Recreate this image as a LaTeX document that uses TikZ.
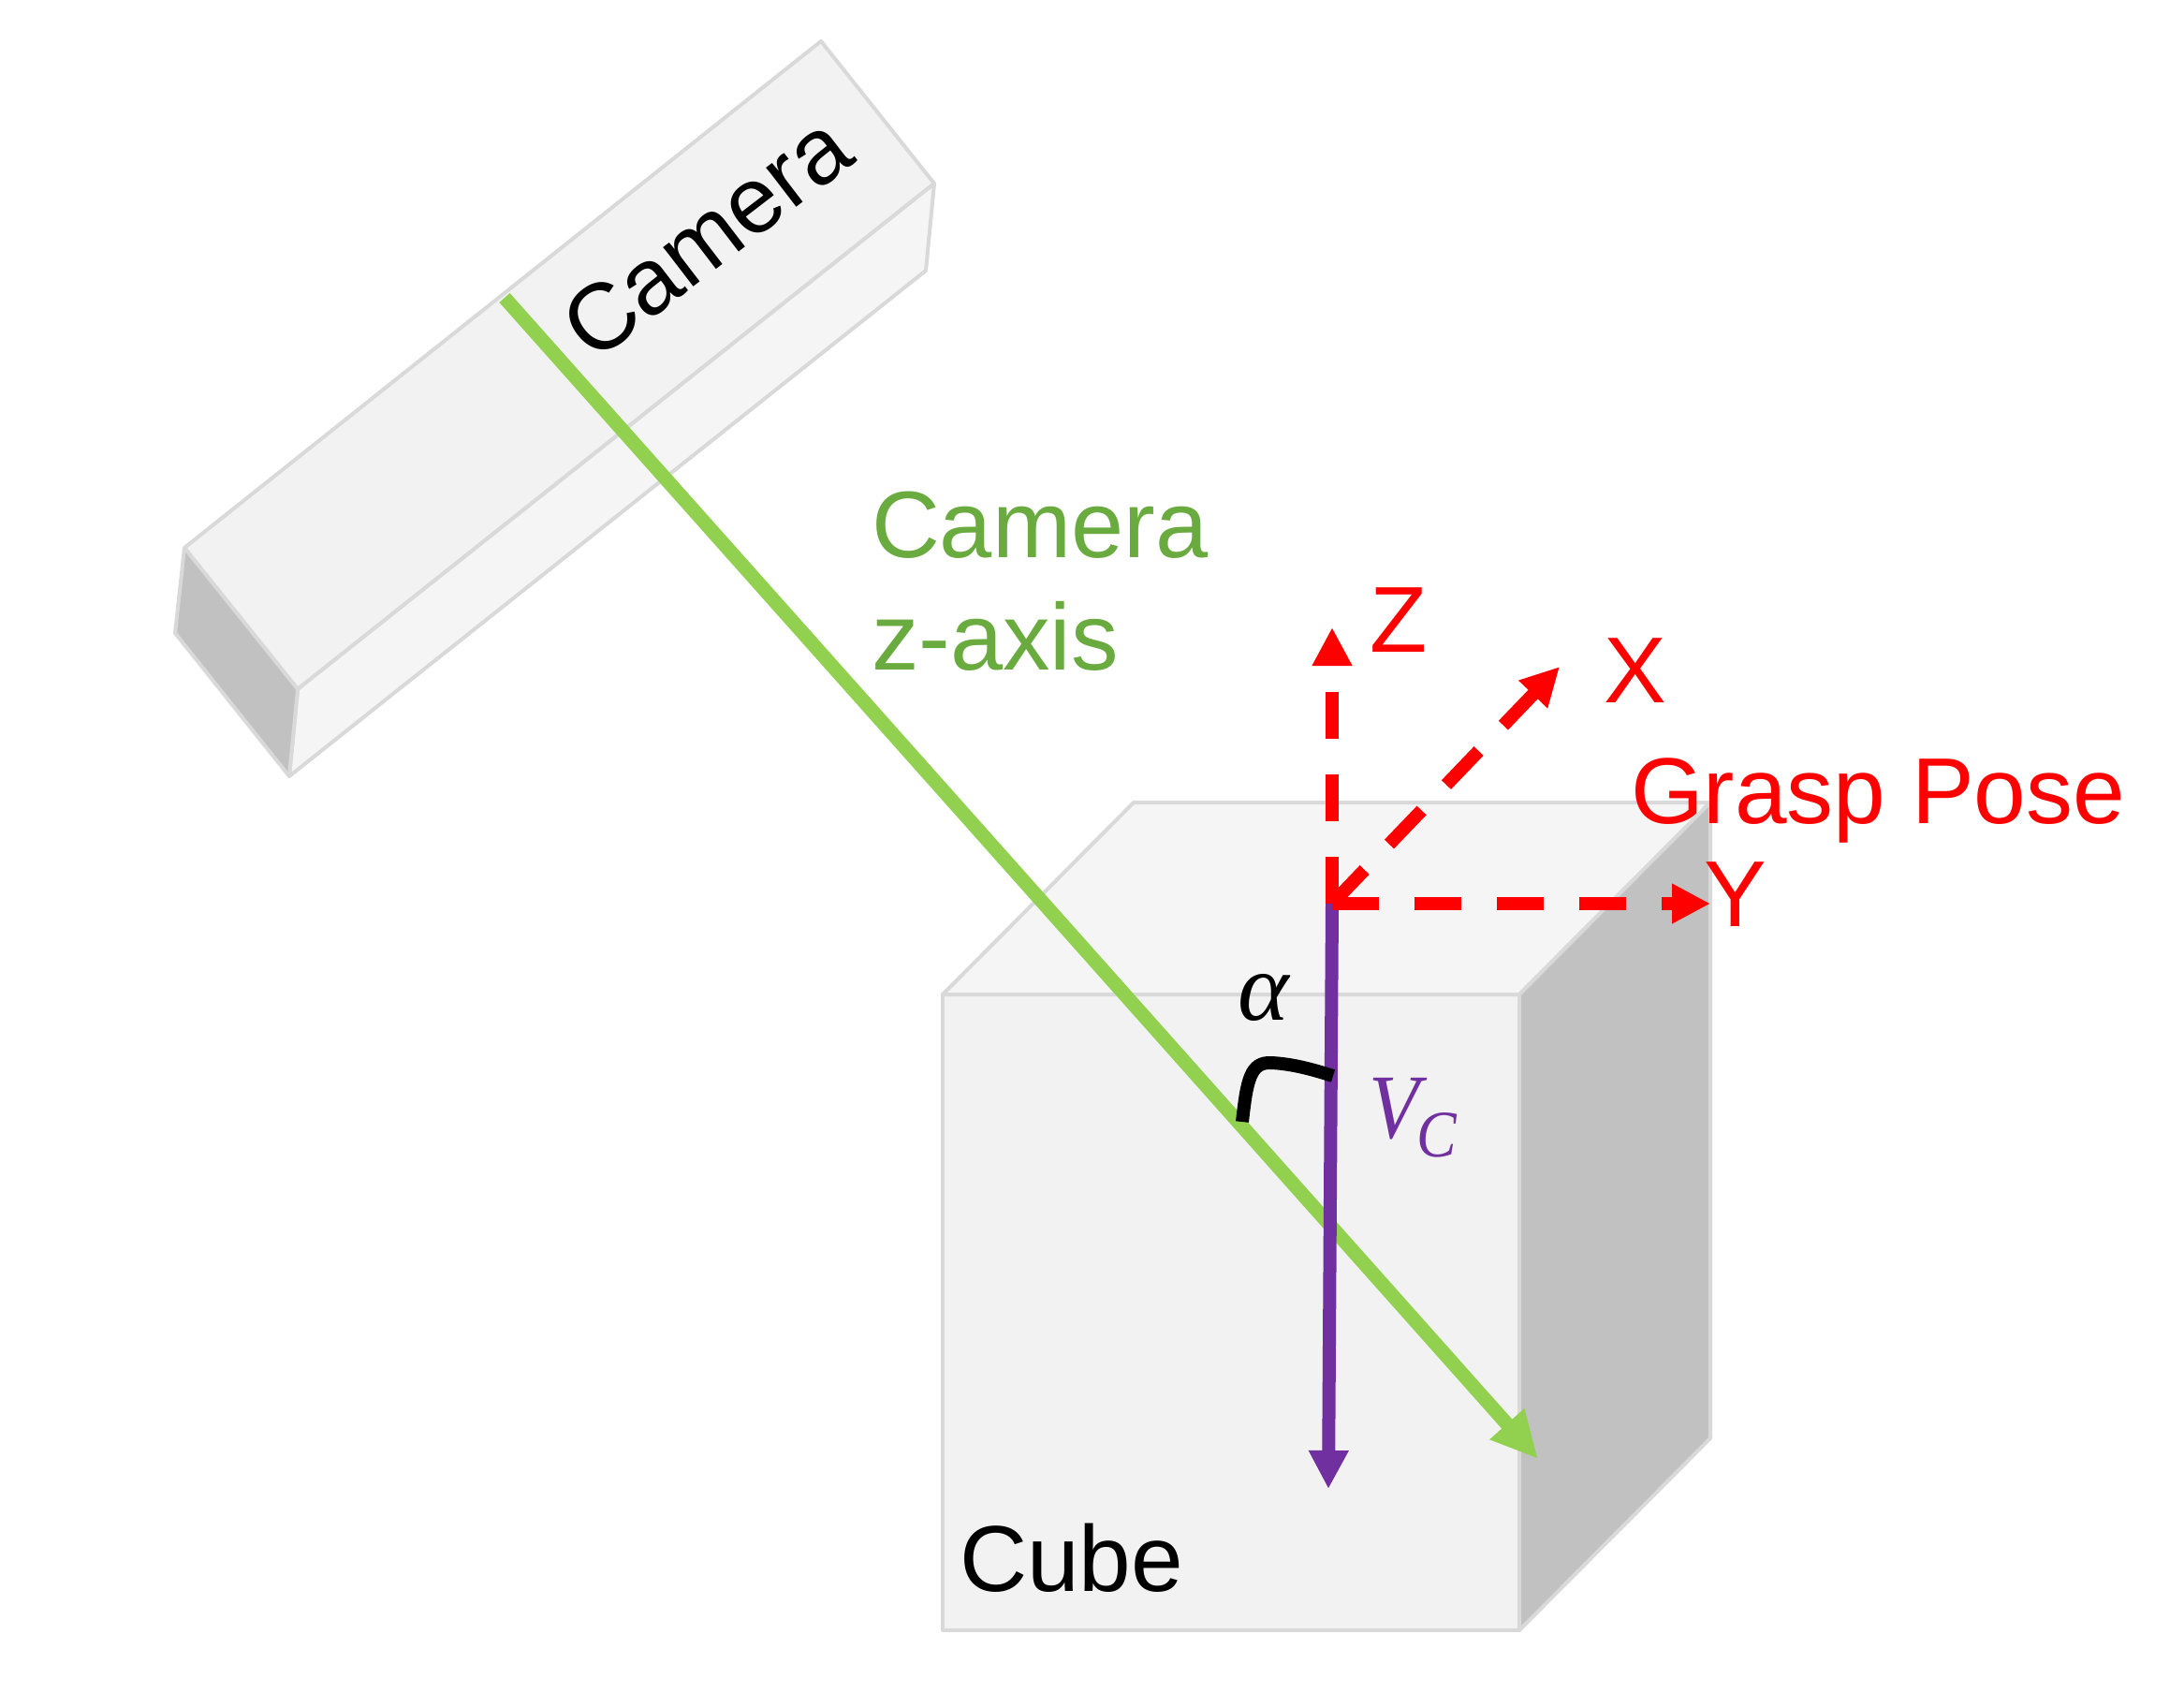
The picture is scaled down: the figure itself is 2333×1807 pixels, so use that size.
\documentclass[tikz,border=0pt]{standalone}
\usepackage{fontspec}
\setmainfont{Liberation Sans}
\newfontfamily\serifit[ItalicFont={Liberation Serif Italic}]{Liberation Serif}
\usetikzlibrary{arrows.meta}
\definecolor{edgegrey}{HTML}{D9D9D9}
\definecolor{faceA}{HTML}{F2F2F2}
\definecolor{faceB}{HTML}{F5F5F5}
\definecolor{faceC}{HTML}{C1C1C1}
\definecolor{camgreen}{HTML}{92D050}
\definecolor{labgreen}{HTML}{6AAB40}
\definecolor{vecpurple}{HTML}{7030A0}
\tikzset{
  face/.style={draw=edgegrey,line width=4pt,line join=round},
  sz/.style={font=\fontsize{#1}{#1}\selectfont,inner sep=0pt,outer sep=0pt},
  lab/.style={sz=100,anchor=base west},
  axis/.style={draw=red,line width=14pt,dash pattern=on 50pt off 38pt,
    -{Triangle[length=41pt,width=40pt,fill=red]},shorten >=0pt},
}
\begin{document}
\begin{tikzpicture}[x=1pt,y=-1pt]
\useasboundingbox (0,0) rectangle (2333,1807);
% camera body
\coordinate (ca) at (197,585); \coordinate (cb) at (877,44);
\coordinate (cc) at (998,196); \coordinate (cd) at (318,736);
\coordinate (ce) at (989,289); \coordinate (cf) at (309,829);
\coordinate (cg) at (187,676);
\path[face,fill=faceA] (ca) -- (cb) -- (cc) -- (cd) -- cycle;
\path[face,fill=faceB] (cd) -- (cc) -- (ce) -- (cf) -- cycle;
\path[face,fill=faceC] (ca) -- (cd) -- (cf) -- (cg) -- cycle;
% cube
\coordinate (fa) at (1007,1062); \coordinate (fb) at (1623,1062);
\coordinate (fc) at (1623,1741); \coordinate (fd) at (1007,1741);
\coordinate (ta) at (1211,857); \coordinate (tb) at (1827,857);
\coordinate (rb) at (1827,1536);
\path[face,fill=faceA] (fa) -- (fb) -- (fc) -- (fd) -- cycle;
\path[face,fill=faceB] (fa) -- (ta) -- (tb) -- (fb) -- cycle;
\path[face,fill=faceC] (fb) -- (tb) -- (rb) -- (fc) -- cycle;
% vectors
\coordinate (zstart) at (539,318); \coordinate (ztip) at (1643,1558);
\coordinate (origin) at (1423,965); \coordinate (vtip) at (1419,1590);
\coordinate (gz) at (1423,670); \coordinate (gx) at (1666,712); \coordinate (gy) at (1827,965);
\draw[camgreen,line width=15pt,-{Triangle[length=50pt,width=46pt,fill=camgreen]}] (zstart) -- (ztip);
\draw[vecpurple,line width=14pt,-{Triangle[length=41pt,width=40pt,fill=vecpurple]}] (origin) -- (vtip);
\draw[axis] (origin) -- (gz);
\draw[axis] (origin) -- (gx);
\draw[axis] (origin) -- (gy);
% angle mark
\coordinate (aa) at (1327,1198); \coordinate (ab) at (1424,1149);
\draw[black,line width=14pt] (aa) .. controls (1332,1152) and (1336,1134) .. (1358,1135) .. controls (1380,1136) and (1402,1142) .. (ab);
% labels
\node[lab,text=black,rotate=37.5,anchor=base west] (cameraL) at (634,388) {Camera};
\node[sz=101,anchor=base west,text=labgreen] (zaxis1) at (931,595) {Camera};
\node[sz=101,anchor=base west,text=labgreen] (zaxis2) at (931,715) {z-axis};
\node[lab,text=red] (lz) at (1463,696) {Z};
\node[lab,text=red] (lx) at (1713,750) {X};
\node[lab,text=red] (ly) at (1820,989) {Y};
\node[lab,text=red] (lg) at (1742,879) {Grasp Pose};
\node[lab,text=black] (lc) at (1025,1699) {Cube};
\node[sz=104,anchor=base west,text=black] (la) at (1322,1089) {\serifit\itshape α};
\node[sz=98,anchor=base west,text=vecpurple,xscale=.9] (lv) at (1462,1215) {\serifit\itshape V};
\node[sz=71,anchor=base west,text=vecpurple,xscale=.9] (lvc) at (1513,1235) {\serifit\itshape C};
\end{tikzpicture}
\end{document}
